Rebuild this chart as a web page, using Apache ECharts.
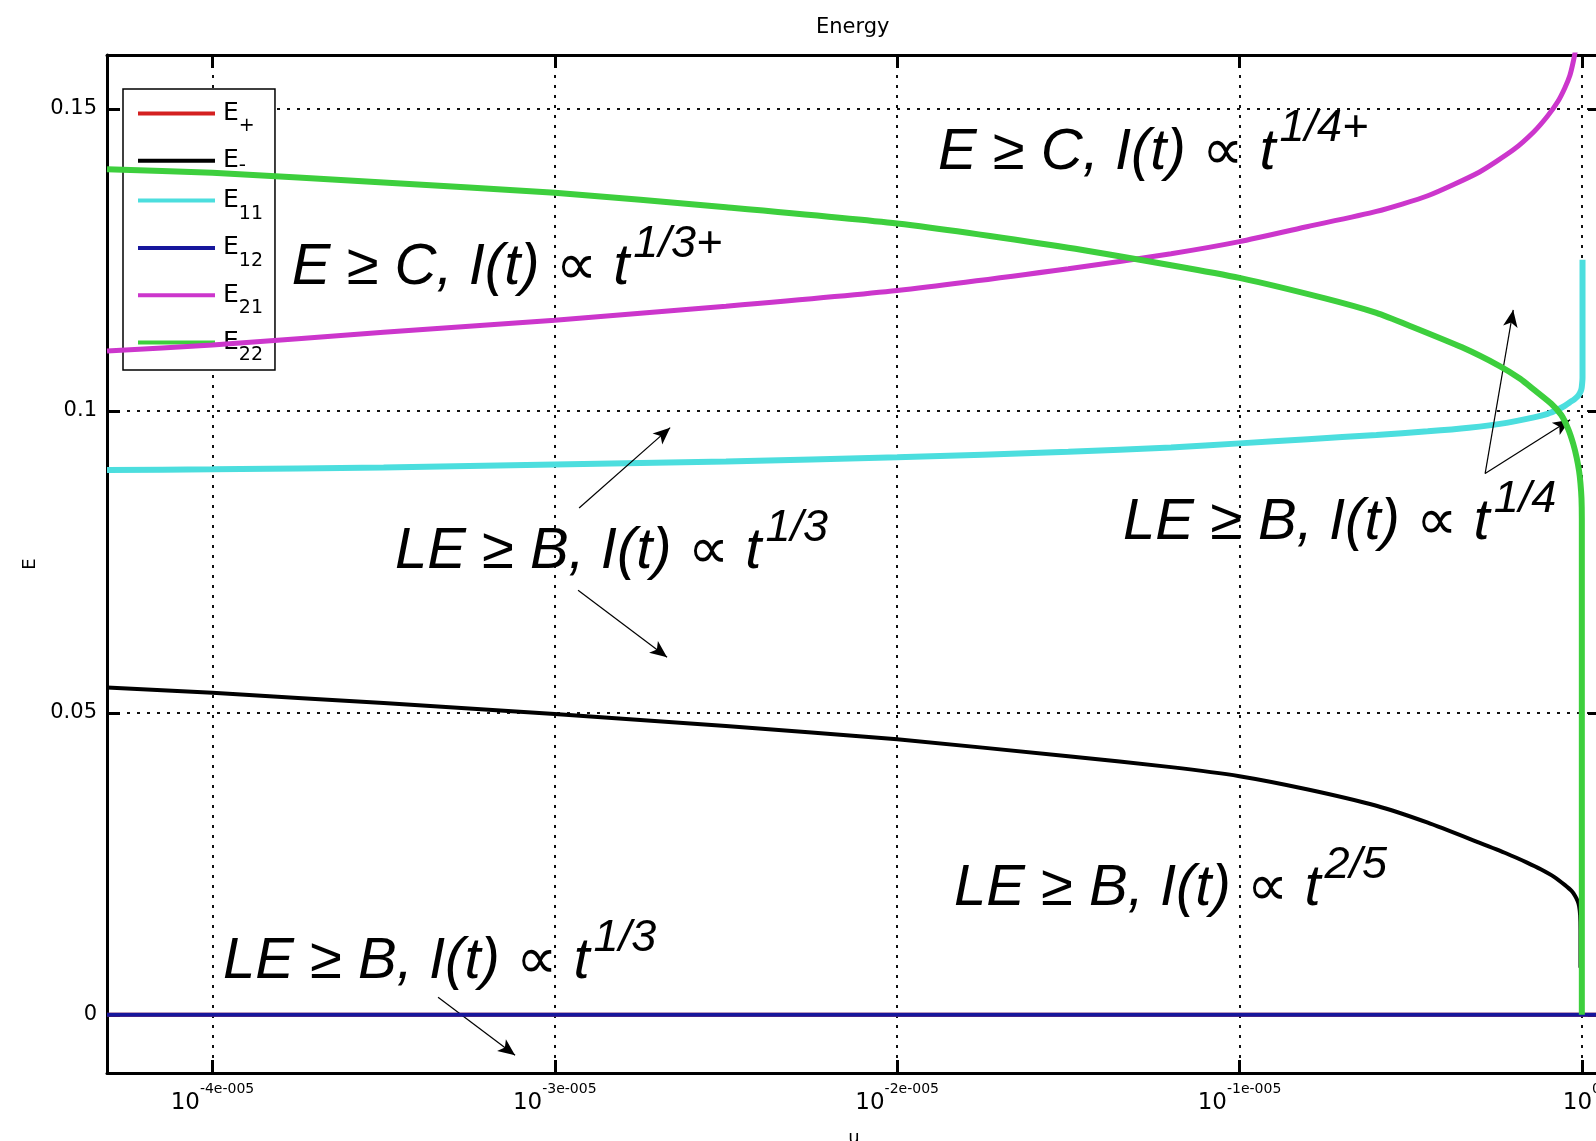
<!DOCTYPE html>
<html><head><meta charset="utf-8">
<script src="https://cdn.jsdelivr.net/npm/echarts@6/dist/echarts.min.js"></script>
<style>html,body{margin:0;padding:0;background:#fff}#c{width:1596px;height:1141px}</style>
</head><body><div id="c"></div>
<script>
// x values: exponent of u, in units of 1e-5  (u = 10^(x * 1e-5))
const xMin = -4.308, xMax = 0.056;
const yMin = -0.00964, yMax = 0.1589;
const xTicks = [-4, -3, -2, -1, 0];
const xTickLabels = ['-4e-005', '-3e-005', '-2e-005', '-1e-005', '0'];
const yTicks = [0, 0.05, 0.1, 0.15];
const yTickLabels = ['0', '0.05', '0.1', '0.15'];
const seriesNames = ['E+', 'E-', 'E11', 'E12', 'E21', 'E22'];

const xEp = [-4.308, 0, 0.056];
const yEp = [0, 0, 0];
const xEm = [-4.308, -4, -3.5, -3, -2.5, -2, -1.5, -1.2, -1, -0.8, -0.6, -0.45, -0.3, -0.22, -0.16, -0.12, -0.08, -0.05, -0.03, -0.02, -0.012, -0.008, -0.005, -0.004, -0.004];
const yEm = [0.0542, 0.0533, 0.0516, 0.0498, 0.0478, 0.0456, 0.0428, 0.0410, 0.0395, 0.0373, 0.0346, 0.0318, 0.0285, 0.0267, 0.0252, 0.0241, 0.0228, 0.0215, 0.0205, 0.0197, 0.0188, 0.0180, 0.0165, 0.0140, 0.0078];
const xE11 = [-4.308, -4, -3.5, -3, -2.5, -2, -1.5, -1.2, -1, -0.8, -0.6, -0.45, -0.33, -0.22, -0.14, -0.1, -0.07, -0.05, -0.035, -0.022, -0.012, -0.006, -0.002, 0, 0.002, 0.002];
const yE11 = [0.0902, 0.0903, 0.0906, 0.0911, 0.0916, 0.0923, 0.0932, 0.0939, 0.0946, 0.0953, 0.0960, 0.0966, 0.0972, 0.0980, 0.0989, 0.0995, 0.1002, 0.1008, 0.1014, 0.1019, 0.1024, 0.1029, 0.1034, 0.1040, 0.1055, 0.1250];
const xE12 = [-4.308, 0, 0.056];
const yE12 = [0, 0, 0];
const xE21 = [-4.308, -4, -3.5, -3, -2.5, -2, -1.5, -1.2, -1, -0.8, -0.6, -0.45, -0.3, -0.2, -0.14, -0.1, -0.07, -0.05, -0.035, -0.025, -0.016, -0.01, -0.005];
const yE21 = [0.1099, 0.1109, 0.1130, 0.1150, 0.1173, 0.1199, 0.1235, 0.1260, 0.1280, 0.1305, 0.1330, 0.1356, 0.1395, 0.1432, 0.1462, 0.1488, 0.1512, 0.1534, 0.1555, 0.1578, 0.1605, 0.1630, 0.1680];
const xE22 = [-4.308, -4, -3.5, -3, -2.5, -2, -1.5, -1.2, -1, -0.75, -0.6, -0.5, -0.35, -0.24, -0.18, -0.14, -0.09, -0.06, -0.04, -0.025, -0.015, -0.008, -0.004, -0.001, 0, 0, 0];
const yE22 = [0.1400, 0.1394, 0.1378, 0.1361, 0.1337, 0.1310, 0.1270, 0.1241, 0.1220, 0.1186, 0.1162, 0.1140, 0.1105, 0.1074, 0.1053, 0.1035, 0.1012, 0.0993, 0.0970, 0.0945, 0.0922, 0.0900, 0.0880, 0.0855, 0.0820, 0.0500, 0.0000];

// annotation texts, anchored (left, baseline) in data coordinates
const annotMain = ['E ≥ C, I(t) ∝ t', 'E ≥ C, I(t) ∝ t', 'LE ≥ B, I(t) ∝ t', 'LE ≥ B, I(t) ∝ t', 'LE ≥ B, I(t) ∝ t', 'LE ≥ B, I(t) ∝ t'];
const annotSup  = ['1/4+', '1/3+', '1/3', '1/4', '2/5', '1/3'];
const annotX = [-1.8805, -3.768, -3.467, -1.340, -1.834, -3.969];
const annotY = [0.1394, 0.1203, 0.0733, 0.0781, 0.0175, 0.0054];
// arrows: start -> tip, data coordinates
const arrowX1 = [-2.929, -2.932, -0.2825, -0.2825, -3.341];
const arrowY1 = [0.0839, 0.0703, 0.0896, 0.0896, 0.0029];
const arrowX2 = [-2.663, -2.672, -0.2004, -0.0342, -3.116];
const arrowY2 = [0.0972, 0.0592, 0.1167, 0.0985, -0.0067];

const pairs = (xs, ys) => xs.map((x, i) => [x, ys[i]]);
const seriesX = [xEp, xEm, xE11, xE12, xE21, xE22];
const seriesY = [yEp, yEm, yE11, yE12, yE21, yE22];
const colors = ['#d42020', '#000000', '#4cdede', '#16169c', '#cc36cc', '#3dcf3d'];
const widths = [4, 4, 6, 4, 5, 6];

const chart = echarts.init(document.getElementById('c'), null, {renderer: 'canvas', width: 1596, height: 1141});

const gridLine = {show: true, lineStyle: {color: '#111', width: 2, type: [3, 7]}};
const axisLineStyle = {onZero: false, lineStyle: {color: '#000', width: 3}};
const tickStyle = {color: '#000', width: 3};
const lblFont = 'DejaVu Sans';

const series = seriesNames.map((n, i) => ({
  name: n, type: 'line', showSymbol: false, symbol: 'none', smooth: 0.2,
  data: pairs(seriesX[i], seriesY[i]),
  lineStyle: {color: colors[i], width: widths[i]},
  itemStyle: {color: colors[i]},
  z: 2 + i, silent: true
}));
series[3].markLine = {
  silent: true, animation: false,
  symbol: ['none', 'arrow'], symbolSize: [11, 17],
  lineStyle: {color: '#000', width: 1.2, type: 'solid'},
  itemStyle: {color: '#000'},
  label: {show: false}, emphasis: {disabled: true},
  data: arrowX1.map((x, i) => [{coord: [x, arrowY1[i]]}, {coord: [arrowX2[i], arrowY2[i]]}])
};

const legendLabel = n => {
  const sub = n.slice(1);
  return sub === '-' ? '{e|E}{d|-}' : '{e|E}{s|' + sub + '}';
};

const option = {
  animation: false,
  backgroundColor: '#fff',
  title: {text: 'Energy', left: 811, top: 12,
    textStyle: {fontFamily: lblFont, fontSize: 21, fontWeight: 'normal', color: '#000'}},
  grid: {left: 107, right: -5, top: 55, bottom: 68, containLabel: false, outerBoundsMode: 'none'},
  legend: {
    orient: 'vertical', left: 123, top: 89,
    padding: [12, 12, 5, 15], itemGap: 12.3,
    backgroundColor: '#fff', borderColor: '#000', borderWidth: 1.5, borderRadius: 0,
    icon: 'rect', itemWidth: 77, itemHeight: 4,
    data: seriesNames.map((n, i) => ({name: n, itemStyle: {color: colors[i]}})),
    formatter: legendLabel,
    textStyle: {color: '#000', fontFamily: lblFont,
      rich: {
        e: {fontSize: 25, lineHeight: 30, fontFamily: lblFont, color: '#000', padding: [0, 0, 0, 3]},
        s: {fontSize: 19, height: 4, verticalAlign: 'bottom', fontFamily: lblFont, color: '#000'},
        d: {fontSize: 20, lineHeight: 5, verticalAlign: 'bottom', fontFamily: lblFont, color: '#000'}
      }}
  },
  xAxis: [{
    type: 'value', min: xMin, max: xMax, position: 'bottom',
    name: 'u', nameLocation: 'middle', nameGap: 56,
    nameTextStyle: {fontFamily: lblFont, fontSize: 18, color: '#000'},
    axisLine: axisLineStyle,
    axisTick: {inside: true, length: 13, customValues: xTicks, lineStyle: tickStyle},
    axisLabel: {customValues: xTicks, margin: 10, color: '#000',
      formatter: v => { const i = xTicks.indexOf(v); return '{b|10}{s|' + (i >= 0 ? xTickLabels[i] : '') + '}'; },
      rich: {
        b: {fontSize: 23, lineHeight: 40, fontFamily: lblFont, color: '#000'},
        s: {fontSize: 14, height: 12, verticalAlign: 'top', fontFamily: lblFont, color: '#000'}
      }},
    splitLine: gridLine
  }, {
    type: 'value', min: xMin, max: xMax, position: 'top',
    axisLine: axisLineStyle,
    axisTick: {inside: true, length: 13, customValues: xTicks, lineStyle: tickStyle},
    axisLabel: {show: false}, splitLine: {show: false}
  }],
  yAxis: [{
    type: 'value', min: yMin, max: yMax, position: 'left',
    name: 'E', nameLocation: 'middle', nameGap: 66, nameRotate: 90,
    nameTextStyle: {fontFamily: lblFont, fontSize: 18, color: '#000'},
    axisLine: axisLineStyle,
    axisTick: {inside: true, length: 13, customValues: yTicks, lineStyle: tickStyle},
    axisLabel: {customValues: yTicks, margin: 10, color: '#000', fontFamily: lblFont, fontSize: 21,
      formatter: v => { const i = yTicks.indexOf(v); return i >= 0 ? yTickLabels[i] : ''; }},
    splitLine: gridLine
  }, {
    type: 'value', min: yMin, max: yMax, position: 'right',
    axisLine: axisLineStyle,
    axisTick: {inside: true, length: 13, customValues: yTicks, lineStyle: tickStyle},
    axisLabel: {show: false}, splitLine: {show: false}
  }],
  series: series
};
chart.setOption(option);

const annFont = 'Liberation Sans, Arial, DejaVu Sans';
const graphics = annotMain.map((m, i) => {
  const p = chart.convertToPixel({xAxisIndex: 0, yAxisIndex: 0}, [annotX[i], annotY[i]]);
  return {
    type: 'text', x: p[0], y: p[1] - 55, z: 100, silent: true,
    style: {
      text: '{m|' + m + '}{s|' + annotSup[i] + '}',
      align: 'left', verticalAlign: 'top', fill: '#000',
      rich: {
        m: {fontSize: 58, lineHeight: 70, fontStyle: 'italic', fontFamily: annFont, fill: '#000'},
        s: {fontSize: 45, height: 22, verticalAlign: 'top', fontStyle: 'italic', fontFamily: annFont, fill: '#000', padding: [0, 0, 0, 4]}
      }
    }
  };
});
chart.setOption({graphic: graphics});
</script></body></html>
